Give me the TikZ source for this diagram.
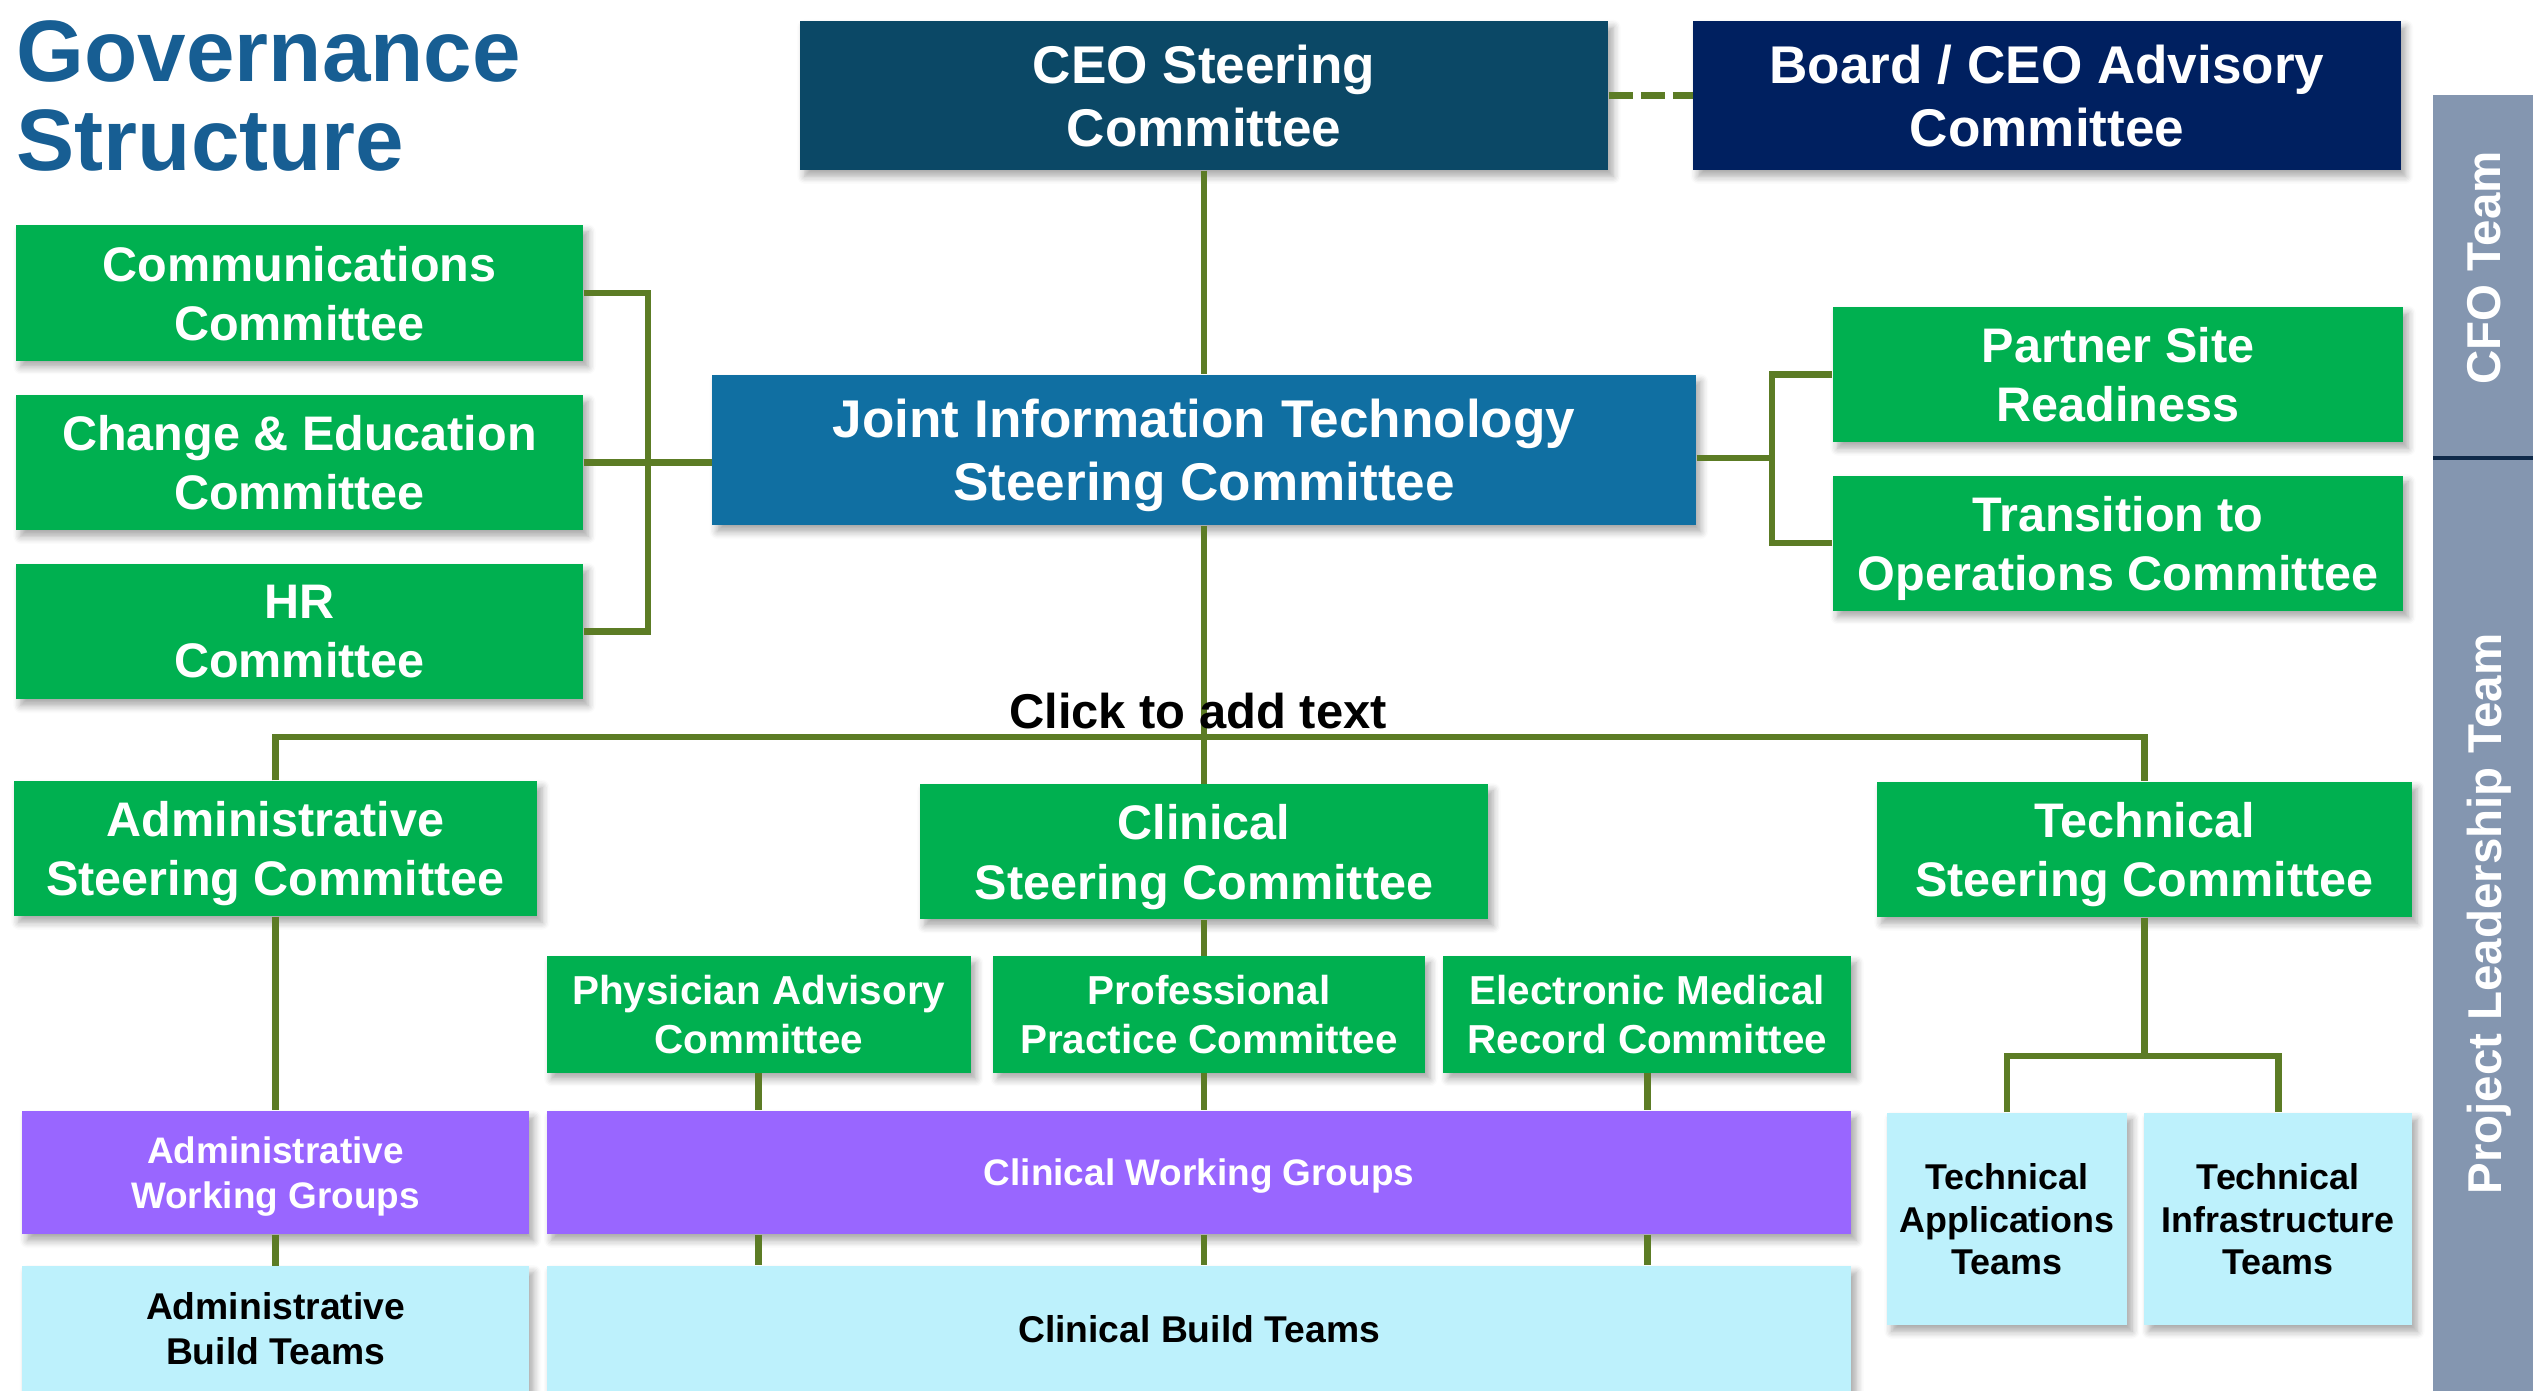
\documentclass[tikz,border=0pt]{standalone}
\usepackage{fontspec}
\setmainfont{Liberation Sans}
\usepackage{tikz}
\usetikzlibrary{positioning,shadows.blur}

\definecolor{ceoteal}{HTML}{0B4866}
\definecolor{boardnavy}{HTML}{002060}
\definecolor{jitblue}{HTML}{106FA2}
\definecolor{cmtgreen}{HTML}{00B050}
\definecolor{wgpurple}{HTML}{9966FF}
\definecolor{teamcyan}{HTML}{BDF1FC}
\definecolor{barblue}{HTML}{8496B0}
\definecolor{barline}{HTML}{0F2A4A}
\definecolor{linkgreen}{HTML}{5C7C25}
\definecolor{titleblue}{HTML}{175E93}

\tikzset{
	boxbase/.style={rectangle, align=center, inner sep=0pt, text=white, text depth=0pt,
		blur shadow={shadow xshift=1.4pt, shadow yshift=-1.8pt, shadow opacity=35, shadow blur steps=6}},
	topbox/.style={boxbase, font=\fontsize{15.1}{17.9}\selectfont\bfseries, minimum height=1.49cm},
	greenbox/.style={boxbase, fill=cmtgreen, font=\fontsize{13.8}{16.8}\selectfont\bfseries, minimum height=1.35cm},
	subbox/.style={boxbase, fill=cmtgreen, font=\fontsize{11.5}{13.8}\selectfont\bfseries, minimum height=1.16cm},
	wgbox/.style={boxbase, fill=wgpurple, font=\fontsize{10.5}{12.9}\selectfont\bfseries, minimum height=1.23cm},
	teambox/.style={boxbase, fill=teamcyan, text=black, font=\fontsize{10.6}{12.8}\selectfont\bfseries},
	link/.style={draw=linkgreen, line width=1.9pt},
	sidetext/.style={rotate=90, anchor=base, text=white, inner sep=0pt, font=\fontsize{13.5}{16}\selectfont\bfseries}
}

\begin{document}
\begin{tikzpicture}[x=0.01cm, y=-0.01cm]
	\useasboundingbox (0,0) rectangle (2539,1391);
	
	%side bar
	\fill[barblue] (2433,95) rectangle (2533,1391);
	\draw[barline, line width=1pt] (2433,458) -- (2533,458);
	\node (cfo) [sidetext] at (2500,268)                                   {CFO Team};
	\node (plt) [sidetext] at (2501,914)                                   {Project Leadership Team};
	
	%nodes
	\node (title) [anchor=north west, align=left, inner sep=0pt, text=titleblue,
		font=\fontsize{24.8}{25.3}\selectfont\bfseries] at (16,20)        {Governance\\Structure};
	
	\node (CEO) [topbox, fill=ceoteal, minimum width=8.08cm] at (1204,95.5) {CEO Steering\\Committee};
	\node (Board) [topbox, fill=boardnavy, minimum width=7.07cm,
		right of=CEO, node distance=8.425cm]                               {Board / CEO Advisory\\Committee};
	\node (JIT) [topbox, fill=jitblue, minimum width=9.83cm, minimum height=1.5cm,
		below of=CEO, node distance=3.545cm]                               {Joint Information Technology\\Steering Committee};
	
	\node (Comm) [greenbox, minimum width=5.67cm] at (299.5,293)           {Communications\\Committee};
	\node (Chg) [greenbox, minimum width=5.67cm, below of=Comm, node distance=1.695cm] {Change \& Education\\Committee};
	\node (HR) [greenbox, minimum width=5.67cm, below of=Chg, node distance=1.69cm]    {HR\\Committee};
	
	\node (Partner) [greenbox, minimum width=5.7cm] at (2118,374.5)         {Partner Site\\Readiness};
	\node (Trans) [greenbox, minimum width=5.7cm, below of=Partner, node distance=1.685cm] {Transition to\\Operations Committee};
	
	\node (AdmSC) [greenbox, minimum width=5.23cm] at (275.5,848.5)         {Administrative\\Steering Committee};
	\node (CliSC) [greenbox, minimum width=5.68cm, below of=JIT, node distance=4.015cm] {Clinical\\Steering Committee};
	\node (TecSC) [greenbox, minimum width=5.35cm] at (2144.5,849.5)        {Technical\\Steering Committee};
	
	\node (Prof) [subbox, minimum width=4.32cm] at (1209,1014.5)             {Professional\\Practice Committee};
	\node (Phys) [subbox, minimum width=4.24cm, left of=Prof, node distance=4.5cm]   {Physician Advisory\\Committee};
	\node (EMR) [subbox, minimum width=4.08cm, right of=Prof, node distance=4.38cm]  {Electronic Medical\\Record Committee};
	
	\node (AdmWG) [wgbox, minimum width=5.06cm, below of=AdmSC, node distance=3.24cm] {Administrative\\Working Groups};
	\node (CliWG) [wgbox, minimum width=13.04cm] at (1199,1172.5)             {Clinical Working Groups};
	
	\node (AdmBT) [teambox, minimum width=5.06cm, minimum height=1.25cm,
		below of=AdmWG, node distance=1.56cm]                              {Administrative\\Build Teams};
	\node (CliBT) [teambox, minimum width=13.04cm, minimum height=1.25cm,
		below of=CliWG, node distance=1.56cm]                              {Clinical Build Teams};
	
	\node (TApp) [teambox, minimum width=2.4cm, minimum height=2.12cm,
		font=\fontsize{10.2}{12}\selectfont\bfseries] at (2007,1219)       {Technical\\Applications\\Teams};
	\node (TInf) [teambox, minimum width=2.68cm, minimum height=2.12cm,
		font=\fontsize{10.2}{12}\selectfont\bfseries, right of=TApp, node distance=2.71cm] {Technical\\Infrastructure\\Teams};
	
	%links
	\coordinate (lbar) at (648,462.5);
	\coordinate (rbar) at (1772,458);
	\coordinate (trunk) at (1203.5,737);
	\coordinate (tjoin) at (2146,1056);
	
	\draw[link] (CEO.south) -- (CEO.south |- JIT.north);
	\draw[link, dash pattern=on 6.8pt off 2.3pt] (CEO.east) -- (Board.west);
	\draw[link] (Comm.east) -| (lbar) |- (HR.east);
	\draw[link] (Chg.east) -- (Chg.east -| JIT.west);
	\draw[link] (Partner.west) -| (rbar) |- (Trans.west);
	\draw[link] (JIT.east |- rbar) -- (rbar);
	
	\draw[link] (JIT.south) -- (CliSC.north);
	\draw[link] (AdmSC.north) |- (trunk) -| (TecSC.north);
	
	\draw[link] (AdmSC) -- (AdmWG);
	\draw[link] (AdmWG) -- (AdmBT);
	
	\draw[link] (CliSC.south) -- (CliSC.south |- Prof.north);
	\draw[link] (CliSC.south |- Prof.south) -- (CliSC.south |- CliWG.north);
	\draw[link] (CliSC.south |- CliWG.south) -- (CliSC.south |- CliBT.north);
	\draw[link] (Phys) -- (Phys |- CliWG.north);
	\draw[link] (Phys |- CliWG.south) -- (Phys |- CliBT.north);
	\draw[link] (EMR) -- (EMR |- CliWG.north);
	\draw[link] (EMR |- CliWG.south) -- (EMR |- CliBT.north);
	
	\draw[link] (TecSC.south) -- (TecSC.south |- tjoin);
	\draw[link] (TApp.north) |- (tjoin) -| (TInf.north);
	
	\node (click) [inner sep=0pt, font=\fontsize{13.9}{16}\selectfont\bfseries] at (1198,711) {Click to add text};
\end{tikzpicture}
\end{document}
